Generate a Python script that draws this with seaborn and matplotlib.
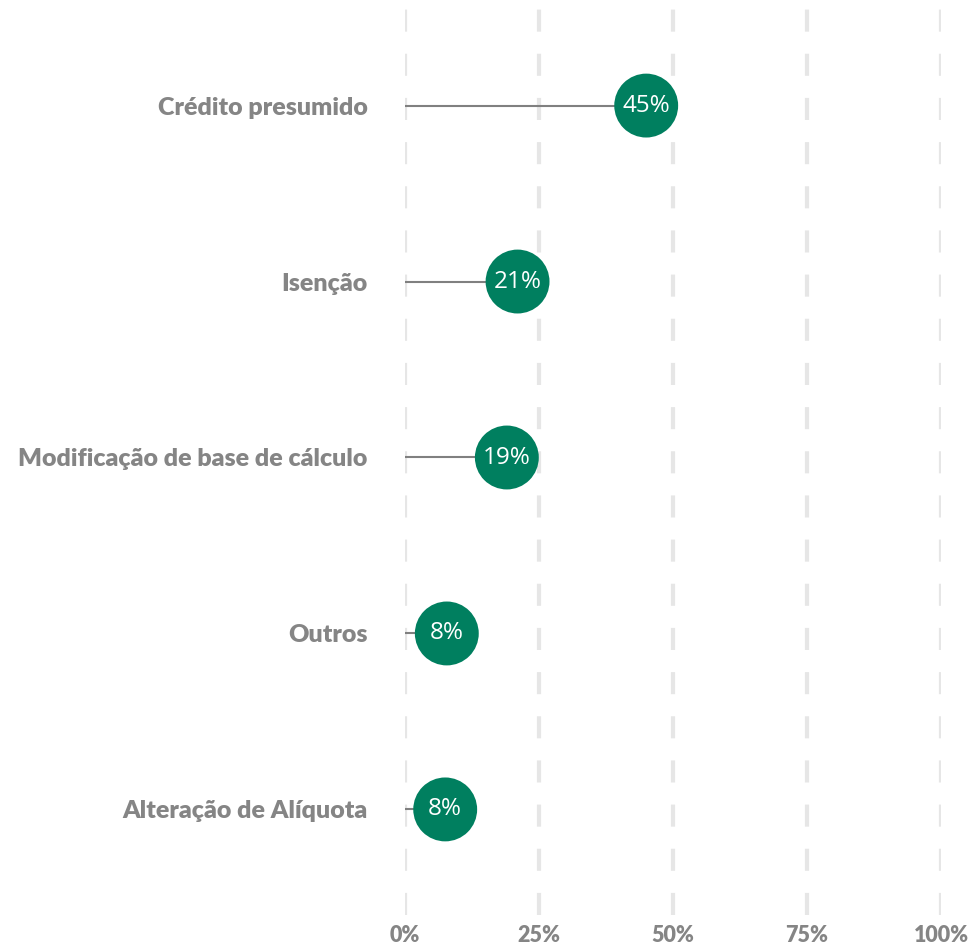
import matplotlib
matplotlib.use('Agg')
import matplotlib.pyplot as plt
import seaborn as sns
import pandas as pd
from matplotlib.ticker import FixedLocator

##### DATA #####
categories = ['Crédito presumido', 'Isenção', 'Modificação de base de cálculo',
              'Outros', 'Alteração de Alíquota']
values = [45, 21, 19, 7.8, 7.5]
labels = ['45%', '21%', '19%', '8%', '8%']
xticks = [0, 25, 50, 75, 100]
xticklabels = ['0%', '25%', '50%', '75%', '100%']

df = pd.DataFrame({'cat': categories, 'val': values, 'lab': labels})

##### PLOTTING #####
sns.set_style('white')
plt.rcParams['font.family'] = ['Lato', 'DejaVu Sans']

green = '#007f5f'
grey = '#858585'

fig = plt.figure(figsize=(9.71, 9.46), dpi=100)
ax = fig.add_axes([405/971, 31/946, 536/971, 915/946])

ypos = list(range(len(categories)))
ax.hlines(ypos, 0, df['val'], color='#808080', lw=1.5, zorder=2)

sns.scatterplot(x=df['val'], y=ypos, ax=ax, color=green, s=2116,
                edgecolor='none', zorder=3, clip_on=False, legend=False)

for y, v, t in zip(ypos, df['val'], df['lab']):
    ax.text(v, y, t, color='white', fontsize=17.5, ha='center', va='center',
            family=['Open Sans', 'DejaVu Sans'], zorder=4)

ax.set_xlim(0, 100)
ax.set_ylim(4.6, -0.6)
ax.xaxis.set_major_locator(FixedLocator(xticks))
ax.set_xticklabels(xticklabels)
ax.set_yticks(ypos)
ax.set_yticklabels(categories)
ax.grid(axis='x', color='#e6e6e6', lw=3, linestyle=(0, (5.3, 5.3)), zorder=0)
ax.grid(axis='y', visible=False)
ax.set_axisbelow(True)
ax.tick_params(axis='both', length=0, colors=grey)
ax.tick_params(axis='y', pad=27, labelsize=18)
ax.tick_params(axis='x', pad=7, labelsize=15.5)
for lab in ax.get_xticklabels() + ax.get_yticklabels():
    lab.set_fontweight('heavy')
ax.set_xlabel('')
ax.set_ylabel('')
sns.despine(left=True, bottom=True)

plt.savefig('out.png', dpi=100)
